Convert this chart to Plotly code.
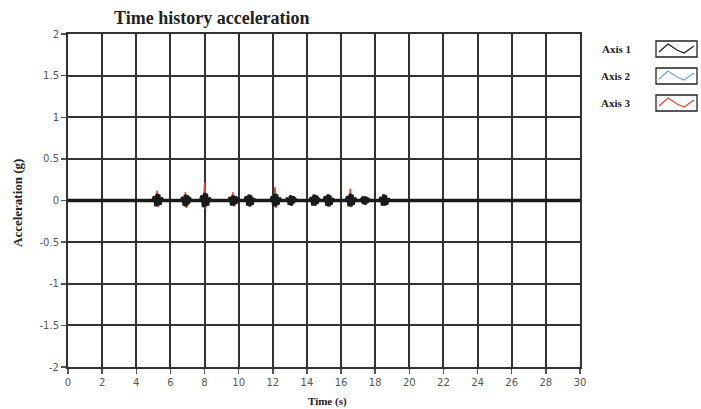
import plotly.graph_objects as go

# ---------------- data ----------------
burst_centers = [5.27, 6.93, 8.06, 9.71, 10.66, 12.18, 13.09, 14.47, 15.29, 16.59, 17.43, 18.55]
burst_offsets = [-0.30, -0.20, -0.12, -0.05, 0.0, 0.05, 0.12, 0.20, 0.30]

axis1_bursts = [
    [0, 0.05, -0.07, 0.08, -0.06, 0.07, -0.05, 0.03, 0],
    [0, 0.04, -0.06, 0.07, -0.07, 0.06, -0.04, 0.02, 0],
    [0, 0.06, -0.08, 0.09, -0.07, 0.08, -0.06, 0.03, 0],
    [0, 0.04, -0.06, 0.06, -0.06, 0.05, -0.04, 0.02, 0],
    [0, 0.05, -0.06, 0.07, -0.07, 0.06, -0.05, 0.02, 0],
    [0, 0.05, -0.07, 0.08, -0.07, 0.07, -0.05, 0.03, 0],
    [0, 0.03, -0.05, 0.06, -0.06, 0.05, -0.03, 0.02, 0],
    [0, 0.04, -0.06, 0.07, -0.06, 0.06, -0.04, 0.02, 0],
    [0, 0.05, -0.06, 0.07, -0.07, 0.06, -0.05, 0.02, 0],
    [0, 0.05, -0.07, 0.08, -0.07, 0.07, -0.05, 0.03, 0],
    [0, 0.02, -0.04, 0.05, -0.05, 0.04, -0.02, 0.01, 0],
    [0, 0.04, -0.06, 0.07, -0.06, 0.06, -0.05, 0.02, 0],
]
axis2_bursts = [
    [0, 0.02, -0.03, 0.03, -0.02, 0.03, -0.02, 0.01, 0],
    [0, 0.01, -0.02, 0.03, -0.03, 0.02, -0.01, 0.01, 0],
    [0, 0.02, -0.03, 0.04, -0.03, 0.03, -0.02, 0.01, 0],
    [0, 0.01, -0.02, 0.02, -0.02, 0.02, -0.01, 0.01, 0],
    [0, 0.02, -0.02, 0.03, -0.03, 0.02, -0.02, 0.01, 0],
    [0, 0.02, -0.03, 0.03, -0.03, 0.03, -0.02, 0.01, 0],
    [0, 0.01, -0.02, 0.02, -0.02, 0.02, -0.01, 0.01, 0],
    [0, 0.01, -0.02, 0.03, -0.02, 0.02, -0.01, 0.01, 0],
    [0, 0.02, -0.02, 0.03, -0.03, 0.02, -0.02, 0.01, 0],
    [0, 0.02, -0.03, 0.03, -0.03, 0.03, -0.02, 0.01, 0],
    [0, 0.01, -0.01, 0.02, -0.02, 0.01, -0.01, 0.01, 0],
    [0, 0.01, -0.02, 0.03, -0.02, 0.02, -0.02, 0.01, 0],
]
axis3_bursts = [
    [0, 0.05, -0.06, 0.12, -0.08, 0.08, -0.05, 0.03, 0],
    [0, 0.04, -0.07, 0.10, -0.09, 0.06, -0.05, 0.02, 0],
    [0, 0.06, -0.08, 0.22, -0.10, 0.09, -0.06, 0.03, 0],
    [0, 0.04, -0.05, 0.10, -0.07, 0.06, -0.04, 0.02, 0],
    [0, 0.03, -0.06, 0.07, -0.07, 0.05, -0.04, 0.02, 0],
    [0, 0.06, -0.07, 0.16, -0.09, 0.08, -0.05, 0.03, 0],
    [0, 0.03, -0.05, 0.06, -0.06, 0.05, -0.03, 0.02, 0],
    [0, 0.04, -0.05, 0.07, -0.06, 0.05, -0.04, 0.02, 0],
    [0, 0.04, -0.06, 0.08, -0.07, 0.06, -0.04, 0.02, 0],
    [0, 0.05, -0.07, 0.14, -0.08, 0.07, -0.05, 0.03, 0],
    [0, 0.02, -0.04, 0.05, -0.05, 0.04, -0.03, 0.01, 0],
    [0, 0.04, -0.06, 0.08, -0.06, 0.06, -0.05, 0.02, 0],
]
time_start, time_end = 0, 30
series_names = ["Axis 1", "Axis 2", "Axis 3"]
series_colors = ["#1a1a1a", "#6fa8dc", "#e8473a"]
x_ticks = list(range(0, 31, 2))
y_ticks = [2, 1.5, 1, 0.5, 0, -0.5, -1, -1.5, -2]
y_tick_labels = ["2", "1.5", "1", "0.5", "0", "-0.5", "-1", "-1.5", "-2"]


def build_series(bursts):
    t = [time_start]
    v = [0]
    for c, vals in zip(burst_centers, bursts):
        for o, val in zip(burst_offsets, vals):
            t.append(round(c + o, 3))
            v.append(val)
    t.append(time_end)
    v.append(0)
    return t, v


# ---------------- layout geometry ----------------
W, H = 701, 409
L, R, T, B = 68, 580, 34, 367


def px(x):
    return (x - L) / (R - L)


def py(y):
    return (B - y) / (B - T)


fig = go.Figure()
widths = [3.4, 1.4, 1.6]
# draw red, blue, then black on top
for idx in [2, 1, 0]:
    bursts = [axis1_bursts, axis2_bursts, axis3_bursts][idx]
    t, v = build_series(bursts)
    fig.add_trace(go.Scatter(x=t, y=v, mode="lines", name=series_names[idx],
                             line=dict(color=series_colors[idx], width=widths[idx]),
                             showlegend=False, hoverinfo="skip"))

serif = "Liberation Serif"
sans = "DejaVu Sans"

axis_common = dict(showgrid=True, gridcolor="#333333", gridwidth=2,
                   showline=True, linecolor="#333333", linewidth=2, mirror=True,
                   ticks="outside", ticklen=5, tickcolor="#555555", tickwidth=1.5,
                   tickfont=dict(family=sans, size=10, color="#555555"),
                   zeroline=False, fixedrange=True)

fig.update_layout(
    width=W, height=H,
    margin=dict(l=L, r=W - R, t=T, b=H - B),
    paper_bgcolor="white", plot_bgcolor="white",
    showlegend=False,
    xaxis=dict(range=[0, 30], tickvals=x_ticks, ticktext=[str(v) for v in x_ticks], **axis_common),
    yaxis=dict(range=[-2, 2], tickvals=y_ticks, ticktext=y_tick_labels, **axis_common),
)


def label(text, x, y, size, angle=0):
    return dict(text=text, x=px(x), y=py(y), xref="paper", yref="paper",
                xanchor="center", yanchor="middle", showarrow=False, textangle=angle,
                font=dict(family=serif, size=size, color="#222222"))


annotations = [
    label("<b>Time history acceleration</b>", 212, 18, 18),
    label("<b>Time (s)</b>", 327, 401, 11),
    label("<b>Acceleration (g)</b>", 17, 203, 13, -90),
]
shapes = []
legend_rows = [49, 76, 103]
for name, color, yc in zip(series_names, series_colors, legend_rows):
    annotations.append(label("<b>" + name + "</b>", 616, yc, 11))
    x0, x1 = 656, 697
    y0, y1 = yc - 8, yc + 8
    shapes.append(dict(type="rect", xref="paper", yref="paper",
                       x0=px(x0), x1=px(x1), y0=py(y1), y1=py(y0),
                       line=dict(color="#222222", width=1.3), fillcolor="white"))
    pts = [(659, yc + 3), (668, yc - 5), (677, yc + 1), (684, yc + 4), (694, yc - 3)]
    path = "M {:.4f},{:.4f}".format(px(pts[0][0]), py(pts[0][1]))
    for (xa, ya) in pts[1:]:
        path += " L {:.4f},{:.4f}".format(px(xa), py(ya))
    shapes.append(dict(type="path", xref="paper", yref="paper", path=path,
                       line=dict(color=color, width=1.2)))

fig.update_layout(annotations=annotations, shapes=shapes)
fig.write_html("out.html", config={"displayModeBar": False, "staticPlot": True},
               post_script="document.body.style.margin='0';document.body.style.overflow='hidden';")
